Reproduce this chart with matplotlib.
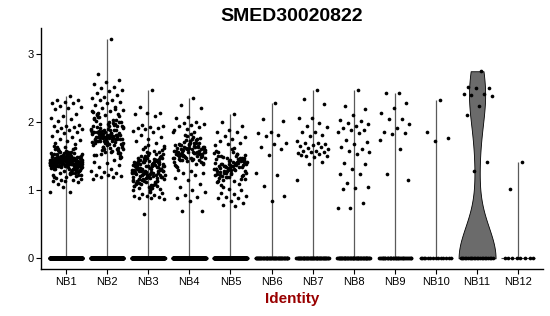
import matplotlib
matplotlib.use('Agg')
import matplotlib.pyplot as plt
import numpy as np

plt.rcParams['font.family'] = ['Liberation Sans', 'DejaVu Sans']

# cluster names
idents = ['NB1', 'NB2', 'NB3', 'NB4', 'NB5', 'NB6',
          'NB7', 'NB8', 'NB9', 'NB10', 'NB11', 'NB12']

# number of cells with zero expression per cluster
zero_counts = [320, 300, 300, 300, 280, 60, 60, 60, 40, 14, 22, 8]

# non-zero expression values
nb1 = [2.39, 2.33, 2.32, 2.30, 2.29, 2.28, 2.24, 2.22, 2.21, 2.20, 2.12, 2.09, 2.07, 2.05, 2.02, 1.96,
       1.95, 1.94, 1.93, 1.92, 1.90, 1.88, 1.87, 1.85, 1.84, 1.80, 1.78, 1.76, 1.74, 1.72, 1.70, 1.68,
       1.05, 0.98, 0.97, 1.09, 1.12, 1.13, 1.14, 1.15, 1.15, 1.16,
       1.42, 1.38, 1.45, 1.51, 1.33, 1.47, 1.40, 1.29, 1.56, 1.44, 1.36, 1.49, 1.41, 1.25, 1.53, 1.39, 1.46, 1.34, 1.60, 1.43,
       1.37, 1.48, 1.31, 1.44, 1.52, 1.40, 1.27, 1.45, 1.35, 1.58, 1.42, 1.39, 1.50, 1.22, 1.46, 1.41, 1.33, 1.55, 1.38, 1.47,
       1.43, 1.30, 1.49, 1.36, 1.62, 1.40, 1.44, 1.24, 1.52, 1.37, 1.45, 1.41, 1.32, 1.48, 1.39, 1.57, 1.43, 1.28, 1.46, 1.35,
       1.50, 1.42, 1.38, 1.20, 1.54, 1.44, 1.40, 1.34, 1.47, 1.63, 1.41, 1.36, 1.49, 1.26, 1.45, 1.39, 1.53, 1.43, 1.31, 1.48,
       1.37, 1.42, 1.59, 1.40, 1.46, 1.23, 1.44, 1.35, 1.51, 1.38, 1.47, 1.41, 1.29, 1.55, 1.43, 1.36, 1.49, 1.40, 1.65, 1.33,
       1.45, 1.39, 1.52, 1.42, 1.27, 1.48, 1.37, 1.44, 1.56, 1.41, 1.34, 1.46, 1.21, 1.50, 1.38, 1.43, 1.61, 1.40, 1.47, 1.32,
       1.44, 1.36, 1.53, 1.41, 1.18, 1.49, 1.39, 1.45, 1.30, 1.58, 1.42, 1.37, 1.48, 1.25, 1.46, 1.40, 1.54, 1.35, 1.43, 1.64,
       1.38, 1.47, 1.41, 1.33, 1.51, 1.44, 1.28, 1.45, 1.39, 1.57, 1.42, 1.36, 1.50, 1.19, 1.48, 1.40, 1.44, 1.31, 1.46, 1.37,
       1.43, 1.52, 1.39, 1.26, 1.47, 1.41, 1.60, 1.35, 1.45, 1.42, 1.38, 1.49, 1.22, 1.44, 1.40, 1.55, 1.34, 1.46, 1.41, 1.36]
nb2 = [3.22, 2.71, 2.62, 2.59, 2.56, 2.52, 2.50, 2.48, 2.46, 2.43, 2.40, 2.37, 2.35, 2.33, 2.32, 2.30,
       2.28, 2.25, 2.23, 2.21, 2.18, 2.16, 2.14, 2.12, 2.10,
       1.17, 1.19, 1.20, 1.21, 1.22, 1.23, 1.25, 1.27, 1.29, 1.31, 1.34, 1.37, 1.40, 1.42, 1.44,
       1.78, 1.95, 1.62, 2.12, 1.81, 1.56, 1.86, 2.03, 1.73, 1.50, 1.98, 1.69, 2.20, 1.64, 1.91, 1.84, 2.08, 1.58, 1.77, 2.15,
       1.89, 1.53, 2.00, 1.68, 1.79, 1.94, 1.61, 2.17, 1.75, 1.87, 1.47, 1.82, 2.06, 1.71, 1.59, 1.93, 1.80, 2.11, 1.55, 1.85,
       1.66, 1.99, 1.77, 1.49, 1.90, 1.72, 2.04, 1.63, 1.88, 1.57, 1.83, 2.09, 1.74, 1.52, 1.96, 1.79, 1.67, 2.01, 1.85, 1.60,
       1.78, 1.85, 1.72, 1.92, 1.81, 1.66, 1.76, 1.98, 1.83, 1.70, 1.88, 1.79, 1.62, 1.74, 1.95, 1.80, 1.86, 1.68, 1.77, 2.02,
       1.82, 1.73, 1.90, 1.58, 1.79, 1.84, 1.71, 2.05, 1.76, 1.87, 1.64, 1.81, 1.93, 1.75, 1.69, 1.83, 1.78, 1.97, 1.55, 1.80,
       1.74, 1.89, 1.77, 1.60, 1.84, 1.72, 2.00, 1.79, 1.86, 1.67, 1.82, 1.75, 1.94, 1.52, 1.78, 1.88, 1.71, 1.80, 2.08, 1.76]
nb3 = [2.48, 2.22, 2.14, 2.13, 2.12, 2.09, 1.96, 1.95, 1.93, 1.92, 1.91, 1.90, 1.87, 1.85, 1.82, 1.79,
       1.76, 1.73, 1.70,
       0.65, 0.87, 0.88, 0.89, 0.90, 0.91, 0.92, 0.93, 0.95, 0.96, 0.98,
       1.32, 1.18, 1.45, 1.27, 1.08, 1.38, 1.22, 1.52, 1.35, 1.12, 1.41, 1.29, 1.04, 1.48, 1.25, 1.36, 1.15, 1.58, 1.31, 1.20,
       1.43, 1.10, 1.34, 1.26, 1.62, 1.39, 1.17, 1.30, 1.47, 1.06, 1.37, 1.23, 1.54, 1.33, 1.13, 1.42, 1.28, 1.01, 1.40, 1.21,
       1.50, 1.35, 1.11, 1.44, 1.24, 1.65, 1.32, 1.16, 1.38, 1.27, 1.07, 1.46, 1.30, 1.19, 1.55, 1.36, 1.14, 1.41, 1.25, 1.03,
       1.33, 1.49, 1.22, 1.39, 1.09, 1.60, 1.29, 1.18, 1.43, 1.34, 1.12, 1.37, 1.26, 1.51, 1.31, 1.05, 1.40, 1.23, 1.45, 1.16,
       1.35, 1.28, 1.57, 1.20, 1.42, 1.10, 1.32, 1.48, 1.24, 1.38, 1.14, 1.63, 1.30, 1.21, 1.44, 1.02, 1.36, 1.27, 1.53, 1.17,
       1.39, 1.08, 1.33, 1.46, 1.25, 1.13, 1.41, 1.29, 1.59, 1.19, 1.34, 1.06, 1.47, 1.22, 1.37, 1.11, 1.31, 1.56, 1.26, 1.43,
       1.15, 1.35, 1.00, 1.40, 1.28, 1.50, 1.20, 1.38, 1.09, 1.32, 1.67, 1.24, 1.44, 1.13, 1.36, 1.27, 1.04, 1.42, 1.18, 1.30]
nb4 = [2.36, 2.25, 2.21, 2.08, 2.06, 2.00, 1.99, 1.97, 1.96, 1.94, 1.93, 1.90, 1.88, 1.86,
       0.69, 0.70, 0.84, 0.88, 0.90, 0.93, 0.98, 1.00, 1.05, 1.10, 1.15, 1.18, 1.22, 1.25, 1.25, 1.28, 1.30,
       1.55, 1.62, 1.48, 1.70, 1.52, 1.41, 1.66, 1.58, 1.75, 1.50, 1.60, 1.44, 1.68, 1.54, 1.80, 1.47, 1.63, 1.57, 1.39, 1.72,
       1.53, 1.65, 1.49, 1.59, 1.78, 1.45, 1.61, 1.56, 1.36, 1.69, 1.51, 1.64, 1.83, 1.46, 1.58, 1.74, 1.42, 1.55, 1.67, 1.50,
       1.62, 1.34, 1.57, 1.71, 1.48, 1.60, 1.53, 1.77, 1.43, 1.66, 1.55, 1.59, 1.40, 1.73, 1.52, 1.64, 1.47, 1.85, 1.56, 1.61,
       1.49, 1.68, 1.54, 1.38, 1.63, 1.57, 1.76, 1.51, 1.45, 1.60,
       1.58, 1.65, 1.44, 1.53, 1.70, 1.62, 1.50, 1.81, 1.56, 1.46, 1.67, 1.54, 1.60, 1.37, 1.74, 1.52, 1.63, 1.48, 1.57, 1.69]
nb5 = [2.12, 2.00, 1.95, 1.88, 1.86, 1.85, 1.80, 1.78, 1.76, 1.72, 1.70, 1.68, 1.66,
       0.77, 0.78, 0.82, 0.85, 0.88, 0.88, 0.90, 0.91, 0.95, 0.96, 1.00, 1.02,
       1.32, 1.41, 1.25, 1.48, 1.36, 1.18, 1.44, 1.29, 1.55, 1.38, 1.21, 1.46, 1.33, 1.12, 1.40, 1.27, 1.52, 1.35, 1.23, 1.43,
       1.30, 1.58, 1.37, 1.15, 1.45, 1.26, 1.50, 1.34, 1.20, 1.42, 1.31, 1.08, 1.47, 1.39, 1.24, 1.53, 1.36, 1.28, 1.60, 1.33,
       1.44, 1.19, 1.40, 1.30, 1.49, 1.22, 1.37, 1.13, 1.46, 1.34, 1.26, 1.56, 1.38, 1.17, 1.43, 1.31, 1.51, 1.28, 1.41, 1.24,
       1.35, 1.10, 1.47, 1.32, 1.62, 1.39, 1.21, 1.45, 1.29, 1.54, 1.36, 1.16, 1.42, 1.27, 1.48, 1.33, 1.23, 1.40, 1.05, 1.37,
       1.30, 1.57, 1.44, 1.25, 1.38, 1.14, 1.50, 1.34, 1.20, 1.46]
nb6 = [2.29, 2.05, 2.02, 1.85, 1.84, 1.81, 1.80, 1.70, 1.68, 1.64, 1.60, 1.52, 1.26, 1.22, 1.06, 0.91, 0.84]
nb7 = [2.48, 2.34, 2.27, 2.07, 2.06, 1.99, 1.94, 1.93, 1.86, 1.85, 1.82, 1.80, 1.72, 1.70, 1.69, 1.68,
       1.67, 1.65, 1.63, 1.62, 1.61, 1.58, 1.58, 1.57, 1.56, 1.55, 1.53, 1.50, 1.50, 1.49, 1.52, 1.41,
       1.39, 1.15]
nb8 = [2.47, 2.24, 2.20, 2.10, 2.04, 2.02, 1.99, 1.98, 1.95, 1.91, 1.89, 1.89, 1.85, 1.84, 1.74, 1.71,
       1.68, 1.64, 1.60, 1.58, 1.56, 1.53, 1.40, 1.39, 1.31, 1.24, 1.24, 1.11, 1.05, 1.04, 1.02, 0.82,
       0.74, 0.74]
nb9 = [2.43, 2.43, 2.29, 2.21, 2.13, 2.05, 2.05, 1.97, 1.92, 1.85, 1.84, 1.83, 1.74, 1.61, 1.24, 1.15]
nb10 = [2.33, 1.85, 1.77, 1.73]
nb11 = [2.75, 2.52, 2.51, 2.50, 2.42, 2.42, 2.40, 2.38, 2.24, 2.11, 1.41, 1.29]
nb12 = [1.41, 1.02]

groups = [nb1, nb2, nb3, nb4, nb5, nb6, nb7, nb8, nb9, nb10, nb11, nb12]

fig, ax = plt.subplots(figsize=(5.5, 3.16), dpi=100)
fig.subplots_adjust(left=0.0751, right=0.987, bottom=0.1478, top=0.9104)

for i, (vals, nz) in enumerate(zip(groups, zero_counts), start=1):
    y = np.array(vals + [0.0] * nz)
    if i == 11:
        # only cluster with a proper violin shape
        parts = ax.violinplot(y, positions=[i], widths=0.9, showextrema=False,
                              bw_method=0.47 / np.std(y, ddof=1))
        for b in parts['bodies']:
            b.set_facecolor('#6b6b6b')
            b.set_edgecolor('black')
            b.set_linewidth(0.6)
            b.set_alpha(1)
    else:
        # zero-dominated clusters collapse into a thin line
        ax.vlines(i, 0, y.max(), color='#5a5a5a', lw=0.9, zorder=1)
        ax.hlines(0, i - 0.42, i + 0.42, color='#444444', lw=0.8, zorder=1)

    # jittered points (deterministic spread within +/-0.4)
    off = (np.arange(1, len(y) + 1) * 0.61803398875) % 1.0
    ax.scatter(i + (off - 0.5) * 0.8, y, s=7, c='black', linewidths=0, zorder=3)

ax.set_xlim(0.4, 12.6)
ax.set_ylim(-0.161, 3.381)
ax.set_xticks(range(1, 13))
ax.set_xticklabels(idents)
ax.set_yticks([0, 1, 2, 3])
ax.tick_params(labelsize=8, length=3.5, width=0.8, colors='black', pad=2)
for s in ['top', 'right']:
    ax.spines[s].set_visible(False)
for s in ['left', 'bottom']:
    ax.spines[s].set_linewidth(1.0)

ax.set_title('SMED30020822', fontsize=14, fontweight='bold', pad=5)
ax.set_xlabel('Identity', fontsize=11, fontweight='bold', color='#990000', labelpad=4)

fig.savefig('out.png', dpi=100)
